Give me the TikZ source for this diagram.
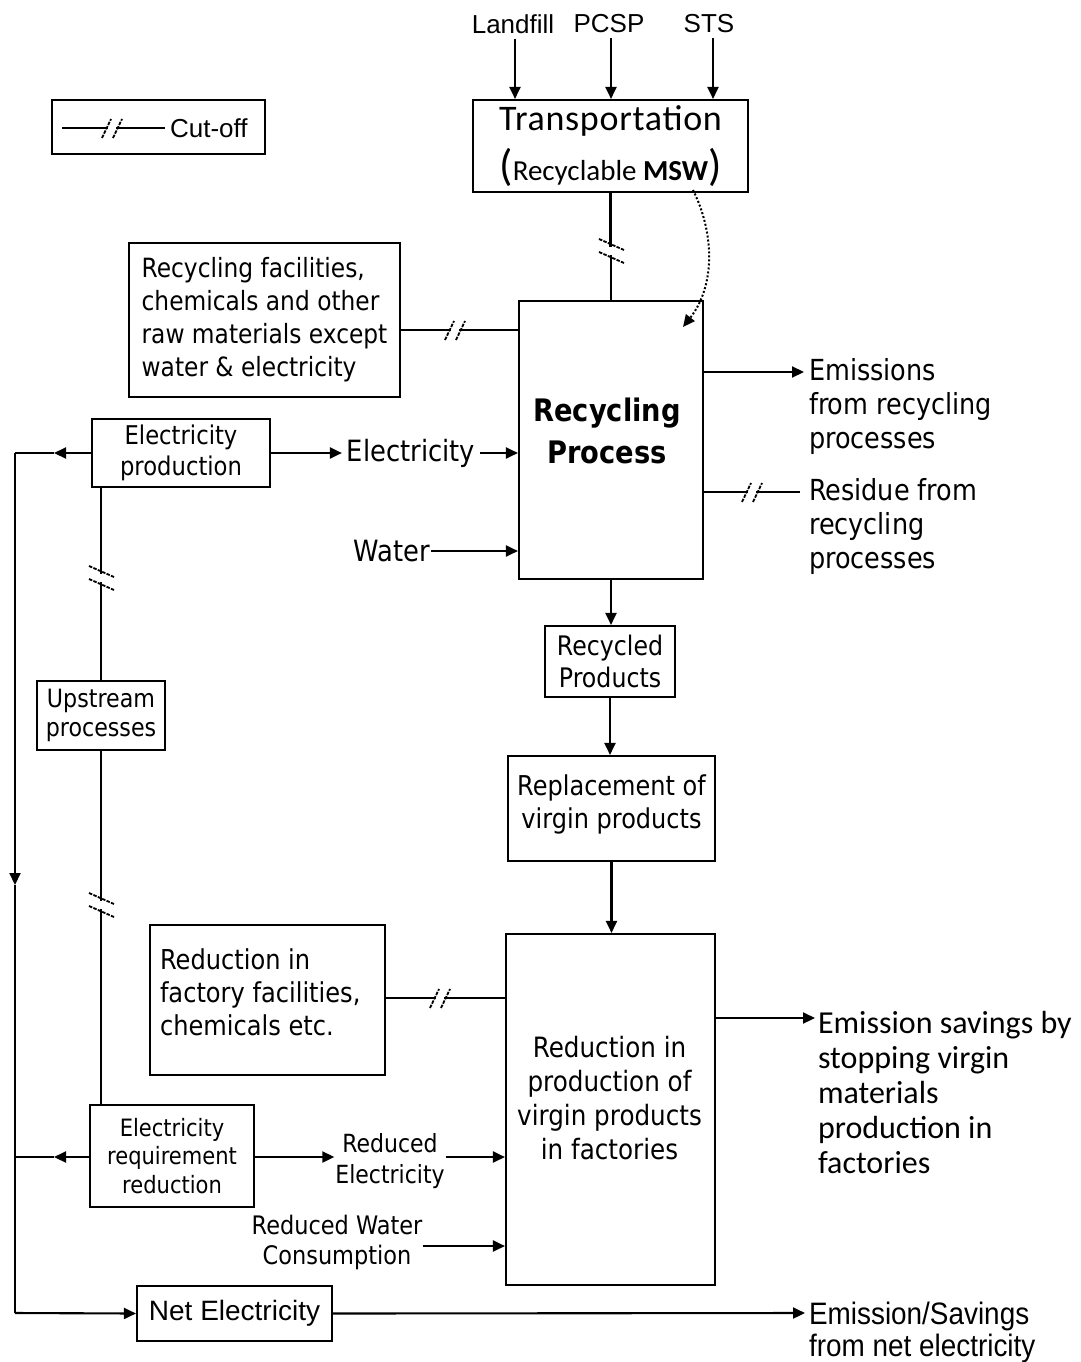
\documentclass[tikz,border=0pt]{standalone}
\usepackage{fontspec}
\usetikzlibrary{arrows.meta,calc}
\newfontfamily\tah[FakeStretch=0.88]{DejaVu Sans}
\newfontfamily\calib{Carlito}
\newfontfamily\arl{Liberation Sans}
\newfontfamily\arln[FakeStretch=0.9]{Liberation Sans}
\newcommand\fs[2]{\fontsize{#1}{#2}\selectfont}

\begin{document}
\begin{tikzpicture}[x=1pt,y=-1pt,
  line width=2.1pt,
  box/.style={draw, line width=2.1pt, inner sep=0pt, align=center},
  lbl/.style={inner sep=0pt, align=center},
  lbll/.style={inner sep=0pt, align=left, anchor=west},
  arr/.style={-{Triangle[length=12pt,width=11pt]}},
  slash/.style={line width=1.8pt, dash pattern=on 3.5pt off 1.3pt},
  cuth/.pic={\fill[white] (-4,-4) rectangle (4,4);
     \draw[slash] (-10,10) -- (-1,-9); \draw[slash] (1,10) -- (10,-9);},
  cutv/.pic={\fill[white] (-4,-4) rectangle (4,4);
     \draw[slash] (-12,-12) -- (13,-1); \draw[slash] (-12,1) -- (13,12);}
]
\useasboundingbox[fill=white] (0,0) rectangle (1081,1362);

% ---------- boxes ----------
\node[box, minimum width=275pt, minimum height=92pt, font=\calib\addfontfeatures{LetterSpace=2}\fs{36}{50}] (trans) at (610.5,146)
  {Transportation\\{\fs{44}{50}(}{\addfontfeatures{LetterSpace=0}\fs{29}{50}Recyclable \textbf{MSW}}{\fs{44}{50})}};
\node[box, minimum width=184pt, minimum height=278pt] (recyc) at (611,440) {};
\node[lbl, font=\tah\bfseries\fs{31}{42}] (recycTxt) at ($(recyc.center)+(-4,-9)$) {Recycling\\Process};
\node[box, minimum width=271pt, minimum height=154pt, align=left, font=\tah\fs{26.5}{33}] (fac) at (264.5,320)
  {Recycling facilities,\\chemicals and other\\raw materials except\\water \& electricity};
\node[box, minimum width=213pt, minimum height=54pt] (legend) at (158.5,127) {};
\node[box, minimum width=178pt, minimum height=68pt, font=\tah\fs{25.8}{31}] (elecprod) at (181,453)
  {Electricity\\production};
\node[box, minimum width=128pt, minimum height=69pt, font=\tah\fs{25.2}{29}] (upstream) at (101,715.5)
  {Upstream\\processes};
\node[box, minimum width=130pt, minimum height=71pt, font=\tah\fs{26.9}{32}] (recprod) at (610,661.5)
  {Recycled\\Products};
\node[box, minimum width=207pt, minimum height=105pt] (replace) at (611.5,808.5) {};
\node[lbl, font=\tah\fs{27.3}{33}] (replaceTxt) at ($(replace.center)+(0,-4)$) {Replacement of\\virgin products};
\node[box, minimum width=209pt, minimum height=351pt] (reduct) at (610.5,1109.5) {};
\node[lbl, font=\tah\fs{28}{34}] (reductTxt) at ($(reduct.center)+(-1,-11)$)
  {Reduction in\\production of\\virgin products\\in factories};
\node[box, minimum width=235pt, minimum height=150pt] (factory) at (267.5,1000) {};
\node[lbll, font=\tah\fs{27.4}{33}] (factoryTxt) at ($(factory.west)+(10,-8)$)
  {Reduction in\\factory facilities,\\chemicals etc.};
\node[box, minimum width=164pt, minimum height=102pt, font=\tah\fs{23.9}{28.5}] (errd) at (172,1156)
  {Electricity\\requirement\\reduction};
\node[box, minimum width=195pt, minimum height=55pt, font=\arl\fs{28}{30}] (netel) at (234.5,1313.5)
  {Net Electricity};

% ---------- free labels ----------
\node[lbl, font=\arl\fs{26}{30}] (lf) at (513,24) {Landfill};
\node[lbl, font=\arl\fs{26}{30}] (pcsp) at (609,24) {PCSP};
\node[lbl, font=\arl\fs{26}{30}] (sts) at (709,24) {STS};
\node[lbll, font=\arl\fs{26}{30}] (cutlbl) at (169,128) {Cut-off};
\node[lbl, inner xsep=4pt, font=\tah\fs{29.3}{34}] (elecLbl) at (411,453) {Electricity};
\node[lbl, font=\tah\fs{29.3}{34}] (waterLbl) at (392,551) {Water};
\node[lbll, font=\tah\fs{29}{34}] (emis) at (808,406) {Emissions\\from recycling\\processes};
\node[lbll, font=\tah\fs{29}{34}] (resid) at (808,526) {Residue from\\recycling\\processes};
\node[lbll, font=\calib\fs{32}{35}] (sav) at (817,1092)
  {Emission savings by\\stopping virgin\\materials\\production in\\factories};
\node[lbl, font=\tah\fs{25}{31}] (redEl) at (390,1161.5) {Reduced\\Electricity};
\node[lbl, font=\tah\fs{25.5}{30}] (redWat) at (337,1242) {Reduced Water\\Consumption};
\node[lbll, font=\arln\fs{31}{32}] (netsav) at (808,1332) {Emission/Savings\\from net electricity};

% ---------- helper coordinates ----------
\coordinate (cA) at (455,330);
\coordinate (cB) at (611,251);
\coordinate (cC) at (752,492);
\coordinate (cD) at (440,998);
\coordinate (cE) at (101,578);
\coordinate (cF) at (101,905);
\coordinate (cL) at (112,128);
\coordinate (legL) at (62,128);
\coordinate (legR) at (165,128);
\coordinate (loopT) at (15,453);
\coordinate (loopB) at (15,1313);
\coordinate (loopM) at (15,1157);
\coordinate (tipL1) at (54,453);
\coordinate (tipL2) at (54,1157);
\coordinate (tipD) at (15,885);
\coordinate (emisTip) at (804,372);
\coordinate (resEnd) at (800,492);
\coordinate (savTip) at (815,1018);
\coordinate (netTip) at (805,1313);
\coordinate (rwStart) at (423,1246);
\coordinate (dotS) at (693,190);
\coordinate (dotE) at (683,327);

% ---------- connectors ----------
\draw[arr, shorten <=4pt] ([xshift=2pt]lf.south) -- ([xshift=2pt]lf.south |- trans.north);
\draw[arr, shorten <=4pt] ([xshift=2pt]pcsp.south) -- ([xshift=2pt]pcsp.south |- trans.north);
\draw[arr, shorten <=4pt] ([xshift=4pt]sts.south) -- ([xshift=4pt]sts.south |- trans.north);

\draw (legL) -- (legR);
\draw (trans.south |- cB) -- (trans.south);
\draw (cB) -- (cB |- recyc.north);
\draw[line width=2pt, dash pattern=on 2pt off 2pt, -{Triangle[length=12pt,width=11pt]}]
  (dotS) .. controls (714,232) and (716,285) .. (dotE);

\draw (fac.east |- cA) -- (cA -| recyc.west);
\draw[arr] (elecprod.east) -- (elecLbl.west);
\draw[arr] (elecLbl.east) -- (elecLbl.east -| recyc.west);
\draw[arr] (waterLbl.east) -- (waterLbl.east -| recyc.west);
\draw[arr] (recyc.east |- emisTip) -- (emisTip);
\draw (recyc.east |- cC) -- (resEnd);

\draw[arr] (recyc.south) -- (recyc.south |- recprod.north);
\draw[arr] (recprod.south) -- (recprod.south |- replace.north);
\draw[arr] (replace.south) -- (replace.south |- reduct.north);

\draw (factory.east |- cD) -- (cD -| reduct.west);
\draw[arr] (reduct.east |- savTip) -- (savTip);
\draw[arr] (errd.east |- loopM) -- (loopM -| redEl.west);
\draw[arr] (redEl.east |- loopM) -- (loopM -| reduct.west);
\draw[arr] (rwStart) -- (rwStart -| reduct.west);

% electricity loop on the left
\draw[arr] (elecprod.west) -- (tipL1);
\draw (tipL1) -- (loopT);
\draw[arr] (loopT) -- (tipD);
\draw (tipD) -- (loopB);
\draw[arr] (loopB) -- (netel.west);
\draw[arr] (errd.west |- loopM) -- (tipL2);
\draw (tipL2) -- (loopM);
\draw[arr] (netel.east) -- (netTip);

% upstream chain
\draw (upstream.north |- elecprod.south) -- (upstream.north);
\draw (upstream.south) -- (upstream.south |- errd.north);

% ---------- cut-off marks ----------
\pic at (cL) {cuth};
\pic at (cA) {cuth};
\pic at (cC) {cuth};
\pic at (cD) {cuth};
\pic at (cB) {cutv};
\pic at (cE) {cutv};
\pic at (cF) {cutv};
\end{tikzpicture}
\end{document}
